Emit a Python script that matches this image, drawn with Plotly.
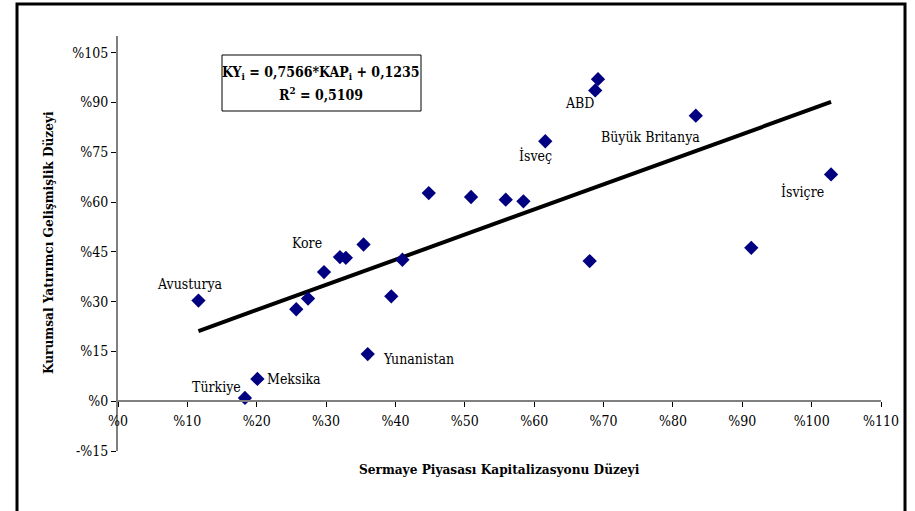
import plotly.graph_objects as go

# Market capitalisation (x) and institutional-investor development (y), in percent
cap_level = [11.6, 18.3, 20.1, 25.7, 27.4, 29.7, 32.0, 32.85, 35.4, 36.0, 39.4, 41.0,
             44.8, 50.9, 55.9, 58.45, 61.6, 68.0, 68.8, 69.2, 83.3, 91.3, 102.8]
inst_level = [30.3, 1.0, 6.7, 27.7, 30.9, 38.9, 43.4, 43.2, 47.2, 14.2, 31.6, 42.6,
              62.7, 61.5, 60.7, 60.2, 78.3, 42.2, 93.6, 97.0, 86.0, 46.2, 68.3]
country = ["Avusturya", "Türkiye", "Meksika", "", "", "", "Kore", "", "", "Yunanistan", "", "",
           "", "", "", "", "İsveç", "", "ABD", "", "Büyük Britanya", "", "İsviçre"]

# Fitted regression KY = 0,7566*KAP + 0,1235 (in fractions)
slope = 0.7566
intercept = 0.1235
r_squared = 0.5109

x_ticks = list(range(0, 111, 10))
y_ticks = list(range(-15, 106, 15))
x_ticktext = ["%" + str(v) for v in x_ticks]
y_ticktext = [("-%" + str(-v)) if v < 0 else ("%" + str(v)) for v in y_ticks]

# Label placement relative to each marker (pixels: dx, dy up, anchor)
label_offsets = {
    "Avusturya": (-8, 17, "center"),
    "Türkiye": (-28, 11, "center"),
    "Meksika": (8, 0, "left"),
    "Kore": (-33, 14, "center"),
    "Yunanistan": (13, -5, "left"),
    "İsveç": (-10, -14, "center"),
    "ABD": (-16, -13, "center"),
    "Büyük Britanya": (-45, -21, "center"),
    "İsviçre": (-29, -17, "center"),
}

W, H = 915, 511
L, R, T, B = 118, 34, 36, 60
plot_w = W - L - R
plot_h = H - T - B


def px_x(px):
    return (px - L) / plot_w


def px_y(py):
    return (H - B - py) / plot_h


SERIF = "DejaVu Serif Condensed, DejaVu Serif"

fig = go.Figure()

x_fit = [min(cap_level), max(cap_level)]
y_fit = [(slope * v / 100 + intercept) * 100 for v in x_fit]
fig.add_trace(go.Scatter(x=x_fit, y=y_fit, mode="lines",
                         line=dict(color="black", width=4), showlegend=False,
                         hoverinfo="skip"))

fig.add_trace(go.Scatter(x=cap_level, y=inst_level, mode="markers",
                         marker=dict(symbol="diamond", size=11, color="#000080",
                                     line=dict(width=0)),
                         showlegend=False))

annotations = []
for xv, yv, name in zip(cap_level, inst_level, country):
    if not name:
        continue
    dx, dy, anchor = label_offsets[name]
    annotations.append(dict(x=xv, y=yv, text=name, showarrow=False,
                            xshift=dx, yshift=dy, xanchor=anchor, yanchor="middle",
                            font=dict(family=SERIF, size=14, color="black")))

eq1 = "<b>KY<sub>i</sub> = 0,7566*KAP<sub>i</sub> + 0,1235</b>"
eq2 = "<b>R<sup>2</sup> = " + ("%.4f" % r_squared).replace(".", ",") + "</b>"
annotations.append(dict(xref="paper", yref="paper", x=px_x(321), y=px_y(73), text=eq1,
                        showarrow=False, xanchor="center", yanchor="middle",
                        font=dict(family=SERIF, size=14, color="black")))
annotations.append(dict(xref="paper", yref="paper", x=px_x(321), y=px_y(94), text=eq2,
                        showarrow=False, xanchor="center", yanchor="middle",
                        font=dict(family=SERIF, size=14, color="black")))

shapes = [
    # equation box
    dict(type="rect", xref="paper", yref="paper", x0=px_x(222), x1=px_x(421),
         y0=px_y(111), y1=px_y(55), line=dict(color="black", width=1)),
    # outer frame
    dict(type="rect", xref="paper", yref="paper", x0=px_x(17), x1=px_x(905),
         y0=px_y(530), y1=px_y(4), line=dict(color="black", width=3)),
]

fig.update_layout(
    width=W, height=H,
    margin=dict(l=L, r=R, t=T, b=B),
    paper_bgcolor="white", plot_bgcolor="white",
    font=dict(family=SERIF, size=14, color="black"),
    annotations=annotations,
    shapes=shapes,
    xaxis=dict(range=[0, 110], tickvals=x_ticks, ticktext=x_ticktext,
               anchor="free", position=15 / 125,
               showline=True, linecolor="#808080", linewidth=2,
               ticks="outside", ticklen=5, tickcolor="black", tickwidth=1,
               ticklabelstandoff=2,
               showgrid=False, zeroline=False,
               tickfont=dict(family=SERIF, size=14)),
    yaxis=dict(range=[-15, 110], tickvals=y_ticks, ticktext=y_ticktext,
               showline=True, linecolor="#808080", linewidth=2,
               ticks="outside", ticklen=5, tickcolor="black", tickwidth=1,
               showgrid=False, zeroline=False,
               tickfont=dict(family=SERIF, size=14)),
)

fig.add_annotation(xref="paper", yref="paper", x=px_x(499), y=px_y(469),
                   text="<b>Sermaye Piyasası Kapitalizasyonu Düzeyi</b>", showarrow=False,
                   xanchor="center", yanchor="middle",
                   font=dict(family=SERIF, size=13.5, color="black"))
fig.add_annotation(xref="paper", yref="paper", x=px_x(48), y=px_y(243),
                   text="<b>Kurumsal Yatırımcı Gelişmişlik Düzeyi</b>", showarrow=False,
                   textangle=-90, xanchor="center", yanchor="middle",
                   font=dict(family=SERIF, size=13.5, color="black"))

fig.write_html("out.html")
